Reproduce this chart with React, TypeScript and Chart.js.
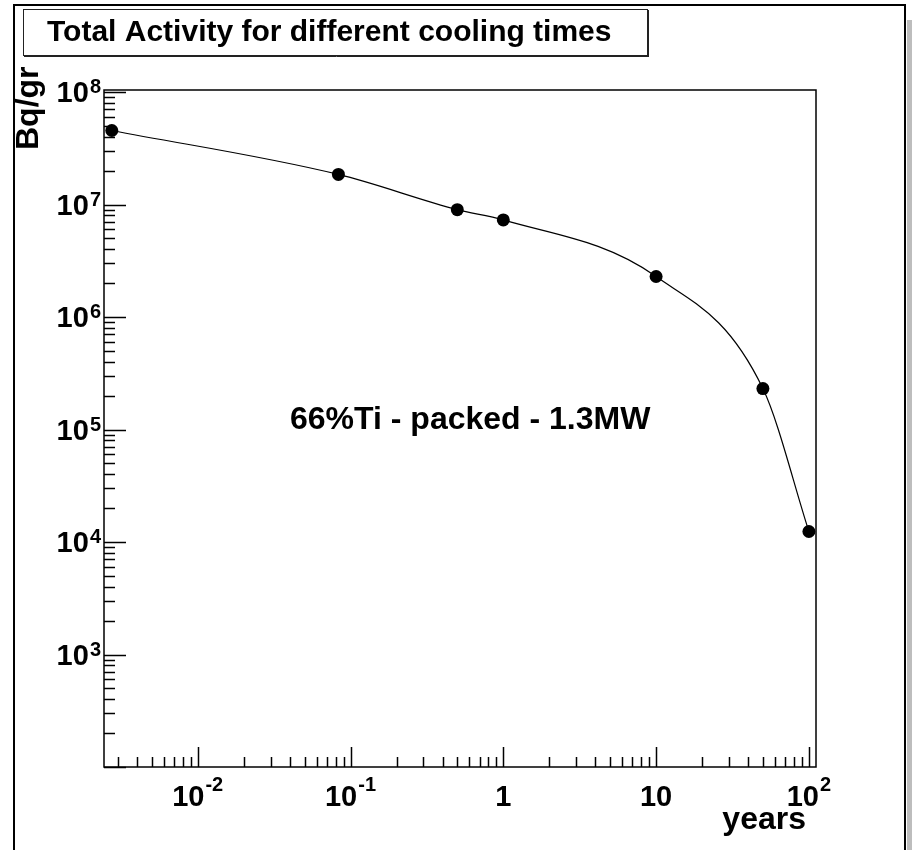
import React, { useEffect, useRef } from "react";
import { Chart, registerables } from "chart.js";

Chart.register(...registerables);

// ---- data ----
const coolingTimesYears = [1 / 365, 1 / 12, 0.5, 1, 10, 50, 100];
const activityBqPerGr = [4.55e7, 1.85e7, 9.0e6, 7.3e6, 2.29e6, 2.31e5, 1.24e4];

const xMajorTicks = [0.01, 0.1, 1, 10, 100];
const xTickMantissa = ["10", "10", "1", "10", "10"];
const xTickExponent = ["-2", "-1", "", "", "2"];

const yMajorTicks = [1e3, 1e4, 1e5, 1e6, 1e7, 1e8];
const yTickMantissa = ["10", "10", "10", "10", "10", "10"];
const yTickExponent = ["3", "4", "5", "6", "7", "8"];

const titleText = "Total Activity for different cooling times";
const annotationText = "66%Ti - packed - 1.3MW";
const xAxisTitle = "years";
const yAxisTitle = "Bq/gr";

const X_MIN = 0.002436;
const X_MAX = 111.3;
const Y_MIN = 100;
const Y_MAX = 1.042e8;

const FONT = '"Liberation Sans", Arial, Helvetica, sans-serif';

const rootDecorations = {
  id: "rootDecorations",
  beforeDraw(chart: any) {
    const ctx = chart.ctx;
    ctx.save();
    ctx.fillStyle = "#ffffff";
    ctx.fillRect(0, 0, chart.width, chart.height);
    // canvas shadow
    ctx.fillStyle = "#bdbdbd";
    ctx.fillRect(907, 20, 5, chart.height - 20);
    // canvas frame
    ctx.strokeStyle = "#000";
    ctx.lineWidth = 2;
    ctx.strokeRect(14, 5, 891, 900);
    // title box
    ctx.lineWidth = 1;
    ctx.strokeStyle = "#222";
    ctx.strokeRect(23.5, 9.5, 624, 46);
    ctx.beginPath();
    ctx.moveTo(24, 56.5);
    ctx.lineTo(649, 56.5);
    ctx.moveTo(648.5, 10);
    ctx.lineTo(648.5, 57);
    ctx.stroke();
    ctx.fillStyle = "#000";
    ctx.font = `bold 30px ${FONT}`;
    ctx.textAlign = "left";
    ctx.textBaseline = "alphabetic";
    ctx.fillText(titleText, 47, 41);
    ctx.restore();
  },
  afterDatasetsDraw(chart: any) {
    const ctx = chart.ctx;
    const { left, right, top, bottom } = chart.chartArea;
    const xs = chart.scales.x;
    const ys = chart.scales.y;
    ctx.save();
    // plot frame
    ctx.strokeStyle = "#000";
    ctx.lineWidth = 1.5;
    ctx.strokeRect(left, top, right - left, bottom - top);

    // x ticks
    ctx.lineWidth = 1.5;
    ctx.beginPath();
    for (let e = -3; e <= 2; e++) {
      for (let m = 1; m <= 9; m++) {
        const v = m * Math.pow(10, e);
        if (v < X_MIN || v > X_MAX) continue;
        const px = Math.round(xs.getPixelForValue(v)) + 0.5;
        const len = m === 1 ? 20 : 10;
        ctx.moveTo(px, bottom);
        ctx.lineTo(px, bottom - len);
      }
    }
    // y ticks
    for (let e = 2; e <= 8; e++) {
      for (let m = 1; m <= 9; m++) {
        const v = m * Math.pow(10, e);
        if (v < Y_MIN || v > Y_MAX) continue;
        const py = Math.round(ys.getPixelForValue(v)) + 0.5;
        const len = m === 1 ? 22 : 11;
        ctx.moveTo(left, py);
        ctx.lineTo(left + len, py);
      }
    }
    ctx.stroke();

    ctx.fillStyle = "#000";
    ctx.textBaseline = "alphabetic";
    ctx.textAlign = "left";
    // x tick labels
    xMajorTicks.forEach((v, i) => {
      const px = xs.getPixelForValue(v);
      ctx.font = `bold 29px ${FONT}`;
      const w1 = ctx.measureText(xTickMantissa[i]).width;
      ctx.font = `bold 20px ${FONT}`;
      const w2 = xTickExponent[i] ? ctx.measureText(xTickExponent[i]).width + 1 : 0;
      const x0 = px - (w1 + w2) / 2;
      ctx.font = `bold 29px ${FONT}`;
      ctx.fillText(xTickMantissa[i], x0, 806);
      if (xTickExponent[i]) {
        ctx.font = `bold 20px ${FONT}`;
        ctx.fillText(xTickExponent[i], x0 + w1 + 1, 791);
      }
    });
    // y tick labels
    yMajorTicks.forEach((v, i) => {
      const py = ys.getPixelForValue(v);
      ctx.font = `bold 20px ${FONT}`;
      const w2 = ctx.measureText(yTickExponent[i]).width;
      ctx.font = `bold 29px ${FONT}`;
      const w1 = ctx.measureText(yTickMantissa[i]).width;
      const xr = 101;
      ctx.fillText(yTickMantissa[i], xr - w2 - 1 - w1, py + 10);
      ctx.font = `bold 20px ${FONT}`;
      ctx.fillText(yTickExponent[i], xr - w2, py + 1);
    });

    // axis titles
    ctx.font = `bold 32px ${FONT}`;
    ctx.textAlign = "right";
    ctx.fillText(xAxisTitle, 806, 829);
    ctx.save();
    ctx.translate(38, 66);
    ctx.rotate(-Math.PI / 2);
    ctx.textAlign = "left";
    ctx.fillText(yAxisTitle, -84, 0);
    ctx.restore();

    // annotation
    ctx.textAlign = "left";
    ctx.font = `bold 32px ${FONT}`;
    ctx.fillText(annotationText, 290, 429);
    ctx.restore();
  },
};

export default function App() {
  const canvasRef = useRef<HTMLCanvasElement | null>(null);

  useEffect(() => {
    const canvas = canvasRef.current;
    if (!canvas) return;
    const chart = new Chart(canvas, {
      type: "line",
      data: {
        datasets: [
          {
            data: coolingTimesYears.map((x, i) => ({ x, y: activityBqPerGr[i] })),
            borderColor: "#000",
            borderWidth: 1.2,
            backgroundColor: "#000",
            pointBackgroundColor: "#000",
            pointBorderColor: "#000",
            pointBorderWidth: 0,
            pointRadius: 6.5,
            cubicInterpolationMode: "monotone",
            fill: false,
          },
        ],
      },
      options: {
        responsive: false,
        animation: false,
        devicePixelRatio: 1,
        layout: { padding: { left: 104, top: 90, right: 96, bottom: 83 } },
        plugins: { legend: { display: false }, tooltip: { enabled: false }, title: { display: false } },
        scales: {
          x: { type: "logarithmic", min: X_MIN, max: X_MAX, display: false },
          y: { type: "logarithmic", min: Y_MIN, max: Y_MAX, display: false },
        },
        events: [],
      },
      plugins: [rootDecorations],
    });
    return () => chart.destroy();
  }, []);

  return (
    <div style={{ position: "fixed", left: 0, top: 0, width: 912, height: 850, background: "#fff" }}>
      <canvas ref={canvasRef} width={912} height={850} style={{ display: "block" }} />
    </div>
  );
}
